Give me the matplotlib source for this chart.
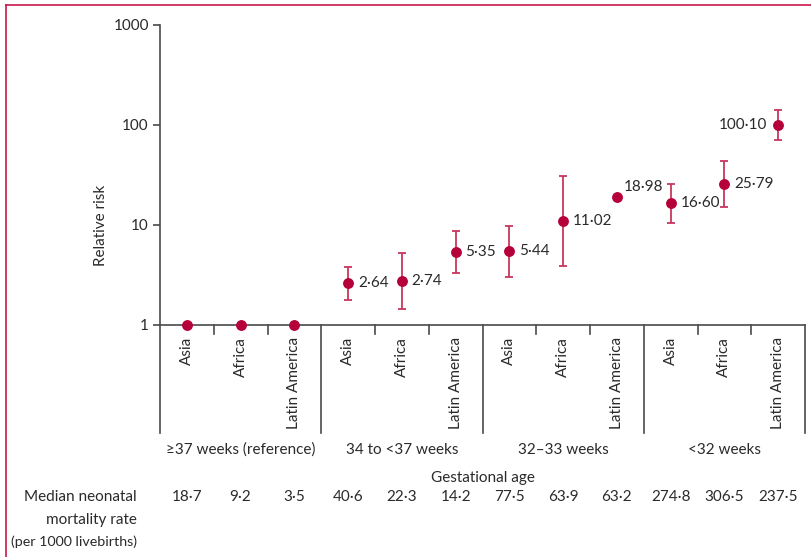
import matplotlib
matplotlib.use("Agg")
import matplotlib.pyplot as plt
from matplotlib.lines import Line2D
import numpy as np

plt.rcParams['font.family'] = ['Lato', 'DejaVu Sans']

regions = ["Asia", "Africa", "Latin America"] * 4
groups = ["≥37 weeks (reference)", "34 to <37 weeks", "32–33 weeks", "<32 weeks"]
rr = [1, 1, 1, 2.64, 2.74, 5.35, 5.44, 11.02, 18.98, 16.60, 25.79, 100.10]
rr_low = [None, None, None, 1.78, 1.45, 3.29, 3.04, 3.92, None, 10.5, 15.2, 70.8]
rr_high = [None, None, None, 3.83, 5.21, 8.7, 9.85, 30.9, None, 25.9, 44.0, 140.0]
rr_labels = ["", "", "", "2·64", "2·74", "5·35", "5·44", "11·02", "18·98", "16·60", "25·79", "100·10"]
mortality = ["18·7", "9·2", "3·5", "40·6", "22·3", "14·2", "77·5", "63·9", "63·2", "274·8", "306·5", "237·5"]
yticks = [1, 10, 100, 1000]

W, H = 811, 557
fig = plt.figure(figsize=(W / 100, H / 100), dpi=100)
L, R, T, B = 160, 805, 25, 325
ax = fig.add_axes([L / W, 1 - B / H, (R - L) / W, (B - T) / H])

red = '#b5003a'
ebc = '#c8365e'
axc = '#4a4a4a'
txc = '#2a2a2a'
fs = 11

x = np.arange(len(rr))
ax.set_yscale('log')
ax.set_ylim(1, 1000)
ax.set_xlim(-0.5, len(rr) - 0.5)

for xi, v, lo, hi in zip(x, rr, rr_low, rr_high):
    if lo is not None:
        ax.errorbar([xi], [v], yerr=[[v - lo], [hi - v]], fmt='none', ecolor=ebc,
                    elinewidth=1.3, capsize=3.2, capthick=1.3, zorder=3, clip_on=False)
ax.plot(x, rr, 'o', color=red, markersize=6.8, zorder=4, clip_on=False)

for xi, v, lab in zip(x, rr, rr_labels):
    if not lab:
        continue
    if lab == "100·10":
        ax.annotate(lab, (xi, v), xytext=(-8, 0), textcoords='offset points',
                    ha='right', va='center', fontsize=fs, color=txc)
    elif lab == "18·98":
        ax.annotate(lab, (xi, v), xytext=(5, 7), textcoords='offset points',
                    ha='left', va='center', fontsize=fs, color=txc)
    else:
        ax.annotate(lab, (xi, v), xytext=(7, 0), textcoords='offset points',
                    ha='left', va='center', fontsize=fs, color=txc)

for s in ['top', 'right']:
    ax.spines[s].set_visible(False)
for s in ['left', 'bottom']:
    ax.spines[s].set_color(axc)
    ax.spines[s].set_linewidth(1.2)

ax.set_yticks(yticks)
ax.set_yticklabels([str(t) for t in yticks])
ax.yaxis.set_minor_locator(matplotlib.ticker.NullLocator())
ax.tick_params(axis='y', length=5, width=1.2, color=axc, labelsize=fs, labelcolor=txc, pad=3)
ax.set_xticks([])

trans = ax.get_xaxis_transform()
sep_bottom = (B - 433) / (B - T)
tick_bottom = (B - 334) / (B - T)
for k in range(5):
    xs = -0.5 + 3 * k
    ax.add_line(Line2D([xs, xs], [0, sep_bottom], transform=trans, color=axc,
                       lw=1.2, clip_on=False))
for xi in x:
    xs = xi + 0.5
    if (xs + 0.5) % 3 != 0 and xs < len(rr) - 0.5:
        ax.add_line(Line2D([xs, xs], [0, tick_bottom], transform=trans, color=axc,
                           lw=1.2, clip_on=False))

lab_top = (B - 337) / (B - T)
for xi, r in zip(x, regions):
    ax.text(xi, lab_top, r, transform=trans, rotation=90, ha='center', va='top',
            fontsize=fs, color=txc)

grp_y = (B - 450) / (B - T)
for k, g in enumerate(groups):
    ax.text(3 * k + 1, grp_y, g, transform=trans, ha='center', va='center',
            fontsize=fs, color=txc)

ax.text(0.5, (B - 478) / (B - T), "Gestational age", transform=ax.transAxes,
        ha='center', va='center', fontsize=fs, color=txc)

row_y = (B - 497) / (B - T)
for xi, m in zip(x, mortality):
    ax.text(xi, row_y, m, transform=trans, ha='center', va='center',
            fontsize=fs, color=txc)

fig.text(137 / W, 1 - 497 / H, "Median neonatal", ha='right', va='center', fontsize=fs, color=txc)
fig.text(137 / W, 1 - 520 / H, "mortality rate", ha='right', va='center', fontsize=fs, color=txc)
fig.text(137 / W, 1 - 542 / H, "(per 1000 livebirths)", ha='right', va='center', fontsize=10.3, color=txc)

fig.text(101 / W, 1 - 225 / H, "Relative risk", rotation=90, ha='center', va='center',
         fontsize=fs, color=txc)

# frame lines (top and left)
fig.add_artist(Line2D([6 / W, 1], [1 - 5 / H, 1 - 5 / H], transform=fig.transFigure,
                      color='#c8184a', lw=1.2))
fig.add_artist(Line2D([6 / W, 6 / W], [0, 1 - 5 / H], transform=fig.transFigure,
                      color='#c8184a', lw=1.2))

fig.savefig("out.png", dpi=100)
